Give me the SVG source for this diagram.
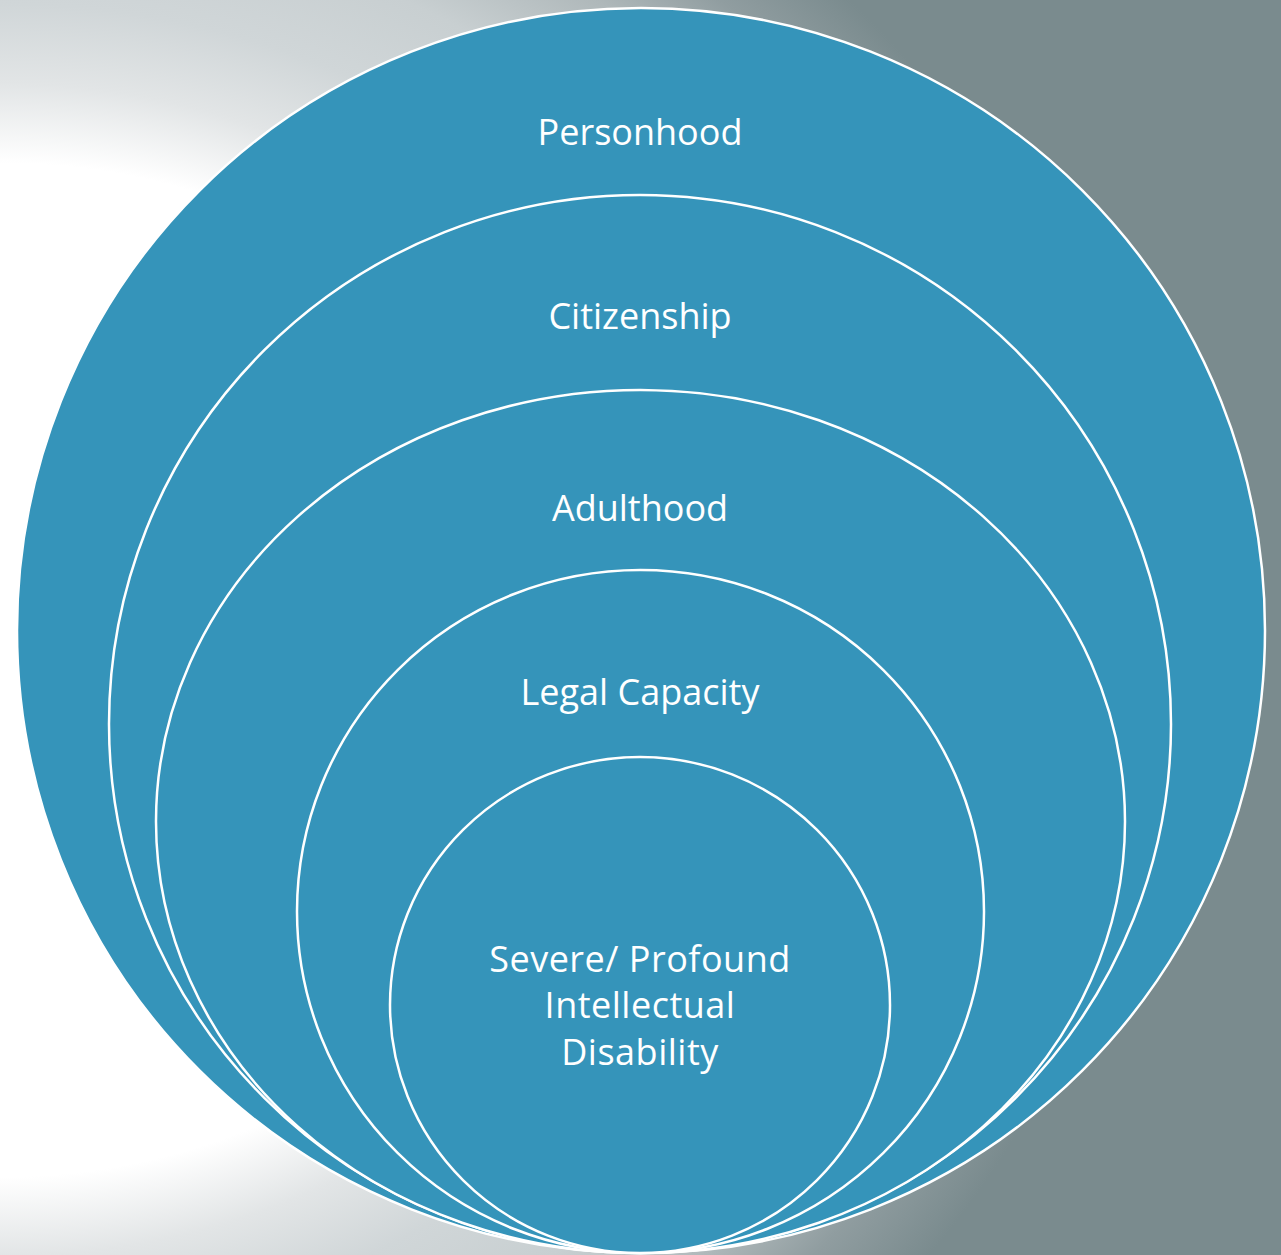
<svg xmlns="http://www.w3.org/2000/svg" width="1281" height="1255" viewBox="0 0 1281 1255">
  <defs>
    <radialGradient id="bg" gradientUnits="userSpaceOnUse" cx="0" cy="670" r="994" gradientTransform="scale(1.157 1)">
      <stop offset="0" stop-color="#ffffff"/>
      <stop offset="0.51" stop-color="#ffffff"/>
      <stop offset="0.59" stop-color="#e2e5e6"/>
      <stop offset="0.67" stop-color="#d0d6d8"/>
      <stop offset="0.76" stop-color="#c8cfd1"/>
      <stop offset="0.85" stop-color="#afb8ba"/>
      <stop offset="0.92" stop-color="#909da0"/>
      <stop offset="1" stop-color="#7a8b8e"/>
    </radialGradient>
  </defs>
  <style>
    .ring { fill: #3594ba; stroke: #ffffff; stroke-width: 2.5; }
    .lbl { fill: #ffffff; font-family: "Open Sans", "Liberation Sans", sans-serif; font-size: 36px; text-anchor: middle; }
  </style>
  <rect x="0" y="0" width="1281" height="1255" fill="url(#bg)"/>
  <g id="personhood">
    <ellipse class="ring" cx="641" cy="630.5" rx="624" ry="622.5"/>
    <text class="lbl" x="640" y="145">Personhood</text>
  </g>
  <g id="citizenship">
    <ellipse class="ring" cx="640" cy="724" rx="531" ry="529"/>
    <text class="lbl" x="640" y="329">Citizenship</text>
  </g>
  <g id="adulthood">
    <ellipse class="ring" cx="640.5" cy="821.5" rx="484.5" ry="431.5"/>
    <text class="lbl" x="640" y="521">Adulthood</text>
  </g>
  <g id="legal-capacity">
    <ellipse class="ring" cx="640.5" cy="911.5" rx="343.5" ry="341.5"/>
    <text class="lbl" x="640" y="705">Legal Capacity</text>
  </g>
  <g id="severe-profound-id">
    <ellipse class="ring" cx="640" cy="1005" rx="250" ry="248"/>
    <text class="lbl" x="640" y="972" letter-spacing="0.5">Severe/ Profound</text>
    <text class="lbl" x="640" y="1018" letter-spacing="0.5">Intellectual</text>
    <text class="lbl" x="640" y="1065" letter-spacing="0.5">Disability</text>
  </g>
</svg>
